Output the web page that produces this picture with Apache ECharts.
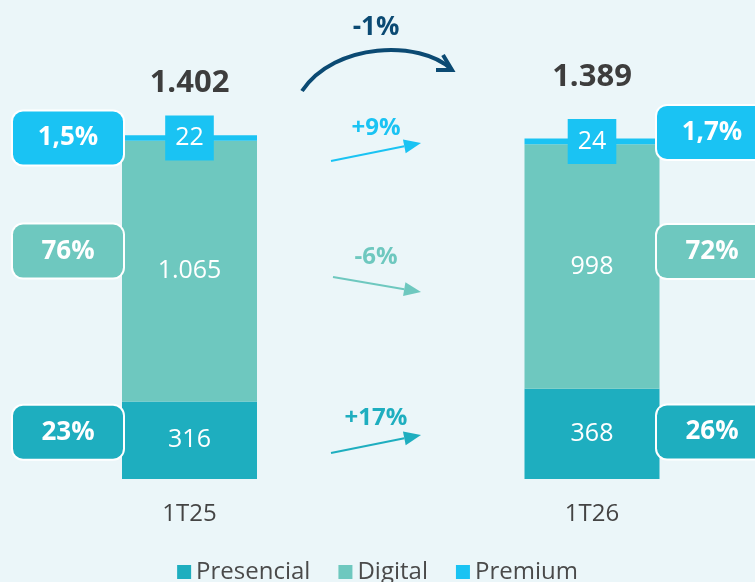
<!DOCTYPE html>
<html>
<head>
<meta charset="utf-8">
<script src="https://cdn.jsdelivr.net/npm/echarts@6/dist/echarts.min.js"></script>
<style>
  html, body { margin: 0; padding: 0; background: #ebf6f9; }
  #chart { width: 755px; height: 582px; }
</style>
</head>
<body>
<div id="chart"></div>
<script>
// data
const quarters = ['1T25', '1T26'];
const presencial = [316, 368];
const digital = [1065, 998];
const premium = [22, 24];
const totals = [1402, 1389];
const sharePresencial = ['23%', '26%'];
const shareDigital = ['76%', '72%'];
const sharePremium = ['1,5%', '1,7%'];
const growthTotal = '-1%';
const growthPresencial = '+17%';
const growthDigital = '-6%';
const growthPremium = '+9%';

const C_PRES = '#1eaebf';
const C_DIG = '#6ec8bf';
const C_PREM = '#1ac3f3';
const C_NAVY = '#0b4a73';
const FONT = '"Open Sans", sans-serif';

const fmt = n => String(n).replace(/\B(?=(\d{3})+(?!\d))/g, '.');

const midPres = presencial.map(v => v / 2);
const midDig = digital.map((v, i) => presencial[i] + v / 2);
const midPrem = premium.map((v, i) => presencial[i] + digital[i] + v / 2);

function barSeries(name, values, color, extraLabel) {
  return {
    name: name,
    type: 'bar',
    stack: 'total',
    barWidth: 135,
    data: values,
    itemStyle: { color: color },
    label: Object.assign({
      show: true,
      position: 'inside',
      color: '#fff',
      fontFamily: FONT,
      fontSize: 25,
      formatter: p => fmt(p.value)
    }, extraLabel || {})
  };
}

// share boxes beside the bars
function sideSeries(mids, shares, color, offsets) {
  return {
    type: 'scatter',
    symbolSize: 1,
    itemStyle: { color: 'rgba(0,0,0,0)', opacity: 1 },
    silent: true,
    z: 5,
    data: mids.map((m, i) => ({
      value: [quarters[i], m],
      label: {
        position: i === 0 ? 'left' : 'right',
        distance: i === 0 ? 121 : 119.5,
        offset: [0, offsets[i]]
      }
    })),
    label: {
      show: true,
      formatter: p => shares[p.dataIndex],
      backgroundColor: color,
      borderColor: '#fff',
      borderWidth: 2,
      borderRadius: 10,
      width: 110,
      height: 53,
      lineHeight: 53,
      align: 'center',
      verticalAlign: 'middle',
      color: '#fff',
      fontFamily: FONT,
      fontWeight: 'bold',
      fontSize: 26
    }
  };
}

function arrow(x1, y1, x2, y2, color) {
  const a = Math.atan2(y2 - y1, x2 - x1);
  const L = 17, W = 7;
  const bx = x2 - L * Math.cos(a), by = y2 - L * Math.sin(a);
  const px = -Math.sin(a) * W, py = Math.cos(a) * W;
  return [
    { type: 'line', shape: { x1: x1, y1: y1, x2: bx, y2: by }, style: { stroke: color, lineWidth: 2 } },
    { type: 'polygon', shape: { points: [[x2, y2], [bx + px, by + py], [bx - px, by - py]] }, style: { fill: color } }
  ];
}

function growthText(text, x, y, color, size) {
  return {
    type: 'text',
    style: {
      text: text, x: x, y: y, fill: color,
      font: 'bold ' + size + 'px ' + FONT,
      align: 'center', verticalAlign: 'middle',
      textAlign: 'center', textVerticalAlign: 'middle'
    }
  };
}

const chart = echarts.init(document.getElementById('chart'));
chart.setOption({
  backgroundColor: '#ebf6f9',
  animation: false,
  grid: { left: -11.75, right: -38.25, top: 87, bottom: 103, outerBoundsMode: 'none' },
  legend: {
    data: ['Presencial', 'Digital', 'Premium'],
    left: 'center',
    top: 560,
    icon: 'rect',
    itemWidth: 14,
    itemHeight: 14,
    itemGap: 28,
    padding: 0,
    textStyle: { fontFamily: FONT, fontSize: 24, color: '#4a4a4a' }
  },
  xAxis: {
    type: 'category',
    data: quarters,
    axisLine: { show: false },
    axisTick: { show: false },
    axisLabel: { fontFamily: FONT, fontSize: 24, color: '#444', margin: 23 }
  },
  yAxis: {
    type: 'value',
    min: 0,
    max: 1600,
    show: false,
    splitLine: { show: false }
  },
  series: [
    barSeries('Presencial', presencial, C_PRES),
    barSeries('Digital', digital, C_DIG),
    barSeries('Premium', premium, C_PREM, {
      backgroundColor: C_PREM,
      padding: [9, 10, 9, 10],
      lineHeight: 27
    }),
    {
      type: 'scatter',
      symbolSize: 1,
      itemStyle: { color: 'rgba(0,0,0,0)', opacity: 1 },
      silent: true,
      data: totals.map((t, i) => ({
        value: [quarters[i], t],
        label: { offset: [0, i === 0 ? 0 : -10] }
      })),
      label: {
        show: true,
        position: 'top',
        distance: 36,
        formatter: p => fmt(p.value[1]),
        color: '#3d3d3d',
        fontFamily: FONT,
        fontWeight: 'bold',
        fontSize: 31
      }
    },
    sideSeries(midPres, sharePresencial, C_PRES, [-8, -2]),
    sideSeries(midDig, shareDigital, C_DIG, [-20, -15]),
    sideSeries(midPrem, sharePremium, C_PREM, [0, -9])
  ],
  graphic: [
    growthText(growthTotal, 376, 28, C_NAVY, 26),
    {
      type: 'bezierCurve',
      shape: { x1: 302, y1: 91, cpx1: 335, cpy1: 42, cpx2: 420, cpy2: 40, x2: 451, y2: 69 },
      style: { stroke: C_NAVY, lineWidth: 4, fill: null }
    },
    {
      type: 'polyline',
      shape: { points: [[436, 70], [452, 70], [443, 55]] },
      style: { stroke: C_NAVY, lineWidth: 4, fill: null, lineJoin: 'miter' }
    },
    growthText(growthPremium, 376, 128, C_PREM, 24),
    ...arrow(331, 161, 421, 143, C_PREM),
    growthText(growthDigital, 376, 257, C_DIG, 24),
    ...arrow(333, 277, 421, 292, C_DIG),
    growthText(growthPresencial, 376, 418, C_PRES, 24),
    ...arrow(331, 453, 421, 435, C_PRES)
  ]
});
</script>
</body>
</html>
